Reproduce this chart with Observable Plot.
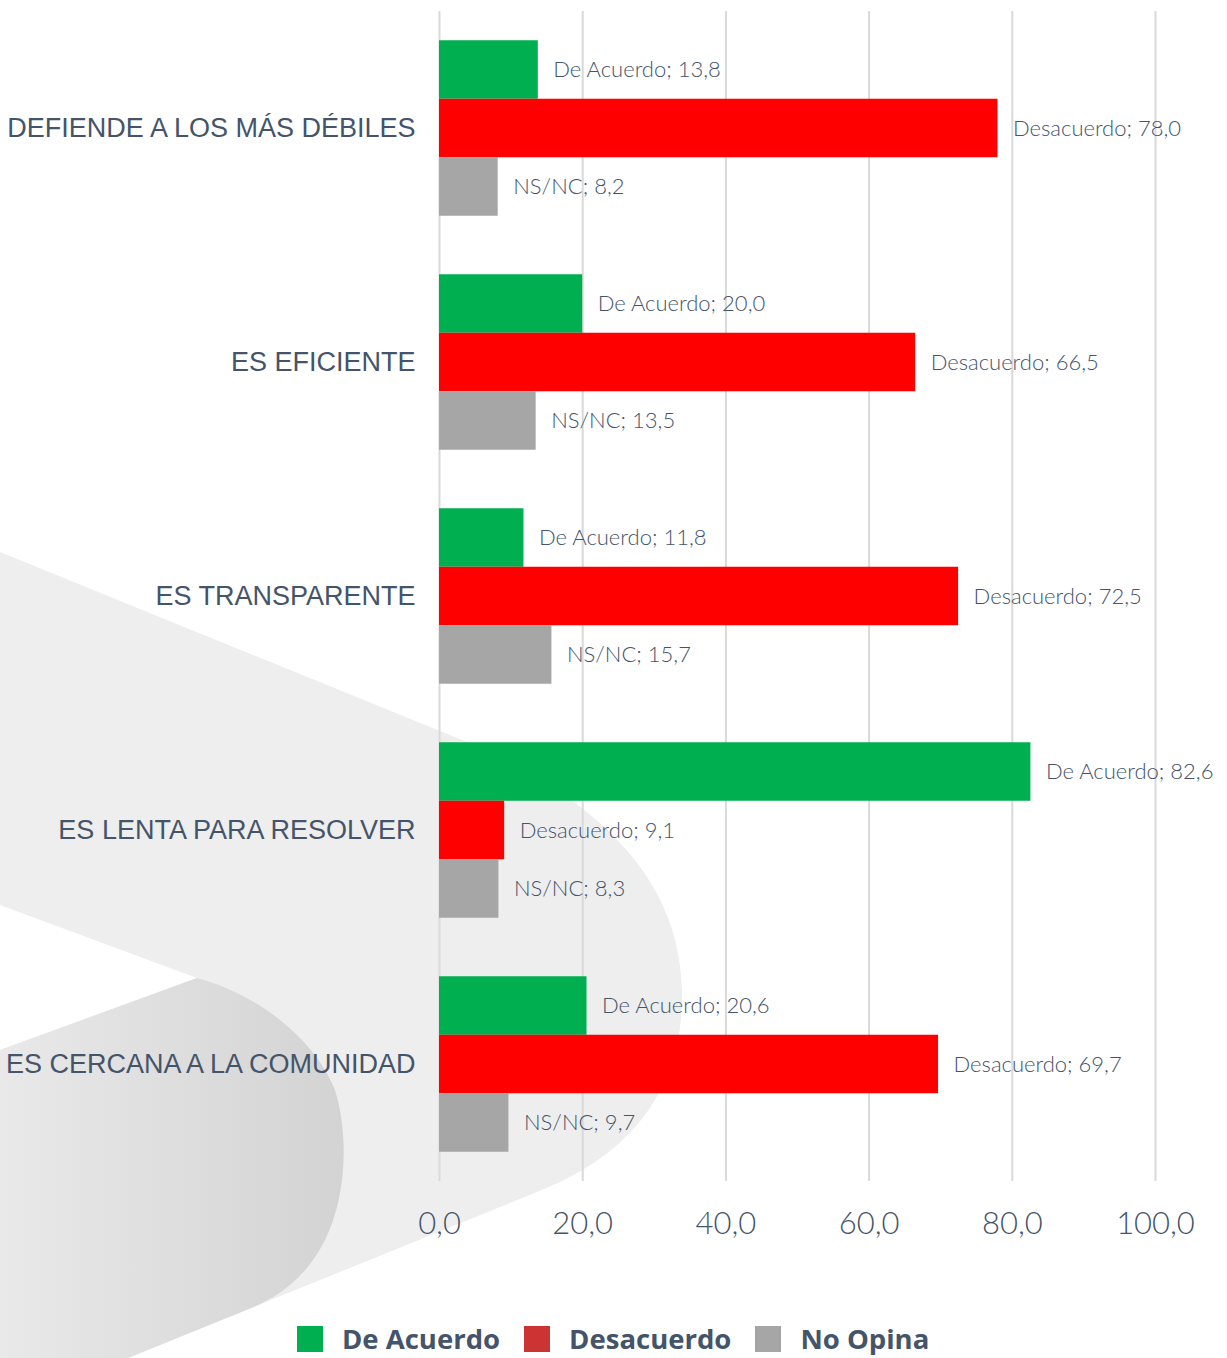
<!DOCTYPE html>
<html>
<head>
<meta charset="utf-8">
<script src="https://cdn.jsdelivr.net/npm/d3@7"></script>
<script src="https://cdn.jsdelivr.net/npm/@observablehq/plot@0.6"></script>
<style>
  body { margin: 0; background: #ffffff; }
  #wrap { position: relative; width: 1227px; height: 1358px; overflow: hidden; background: #ffffff; }
  #bg { position: absolute; left: 0; top: 0; }
  #chart { position: absolute; left: 0; top: 0; }
  #legend { position: absolute; left: 297px; top: 1325px; display: flex; align-items: center;
            font-family: "Open Sans", "Inter", sans-serif; font-weight: 700; font-size: 27.5px; line-height: 28px; color: #44546A; }
  .item { display: flex; align-items: center; margin-right: 24px; }
  .sw { width: 26px; height: 26px; margin-right: 19px; }
</style>
</head>
<body>
<div id="wrap">
  <svg id="bg" width="1227" height="1358" viewBox="0 0 1227 1358">
    <defs>
      <linearGradient id="dg" x1="0" x2="1" y1="0" y2="0">
        <stop offset="0" stop-color="#e9e9e9"/>
        <stop offset="1" stop-color="#d3d3d3"/>
      </linearGradient>
    </defs>
    <path d="M0,552 L467,742 C600,800 680,880 682,990 C684,1080 640,1150 542,1190 L128,1358 L0,1358 Z" fill="#eeeeee"/>
    <path d="M0,905 L197,978 L0,1050 Z" fill="#ffffff"/>
    <path d="M0,1050 L197,978 C260,995 315,1040 335,1090 C350,1140 345,1200 325,1240 C300,1290 260,1305 239,1313 L128,1358 L0,1358 Z" fill="url(#dg)"/>
  </svg>
  <div id="chart"></div>
  <div id="legend"></div>
</div>
<script>
const categories = [
  "DEFIENDE A LOS MÁS DÉBILES",
  "ES EFICIENTE",
  "ES TRANSPARENTE",
  "ES LENTA PARA RESOLVER",
  "ES CERCANA A LA COMUNIDAD"
];
const series = ["De Acuerdo", "Desacuerdo", "NS/NC"];
const deAcuerdo  = [13.8, 20.0, 11.8, 82.6, 20.6];
const desacuerdo = [78.0, 66.5, 72.5, 9.1, 69.7];
const nsnc       = [8.2, 13.5, 15.7, 8.3, 9.7];
const xTicks = [0, 20, 40, 60, 80, 100];
const barColors = ["#00B050", "#FF0000", "#A6A6A6"];
const legendLabels = ["De Acuerdo", "Desacuerdo", "No Opina"];
const legendColors = ["#00B050", "#CC3333", "#A6A6A6"];

const fmt = v => v.toFixed(1).replace(".", ",");
const seriesValues = [deAcuerdo, desacuerdo, nsnc];
const key = (c, s) => `${c}|${s}`;
const rows = [];
const yDomain = [];
categories.forEach((c, i) => {
  series.forEach((s, j) => {
    rows.push({cat: c, series: s, key: key(c, s), value: seriesValues[j][i]});
    yDomain.push(key(c, s));
  });
  if (i < categories.length - 1) yDomain.push(`gap${i}`);
});
const labelKeys = categories.map(c => key(c, series[1]));

const chart = Plot.plot({
  width: 1227,
  height: 1290,
  marginTop: 11,
  marginBottom: 109,
  marginLeft: 439,
  marginRight: 72,
  style: {background: "transparent", overflow: "visible"},
  x: {domain: [0, 100], axis: null},
  y: {domain: yDomain, paddingInner: 0, paddingOuter: 0.5, round: false, axis: null},
  color: {domain: series, range: barColors},
  marks: [
    Plot.ruleX(xTicks, {stroke: "#d9d9d9", strokeWidth: 2}),
    Plot.barX(rows, {x: "value", y: "key", fill: "series"}),
    Plot.text(rows, {
      x: "value", y: "key",
      text: d => `${d.series}; ${fmt(d.value)}`,
      textAnchor: "start", dx: 15,
      fontSize: 22, fontWeight: 300, fill: "#44546A",
      fontFamily: "Lato, 'Open Sans', sans-serif"
    }),
    Plot.axisY(labelKeys, {
      anchor: "left", tickSize: 0, tickPadding: 24, label: null,
      tickFormat: k => k.split("|")[0],
      fontSize: 27, fill: "#44546A", fontFamily: "'Liberation Sans', Arial, sans-serif"
    }),
    Plot.axisX(xTicks, {
      anchor: "bottom", tickSize: 0, tickPadding: 30, label: null,
      tickFormat: d => fmt(d),
      fontSize: 31, fontWeight: 300, fill: "#44546A",
      fontFamily: "Lato, 'Open Sans', sans-serif"
    })
  ]
});
document.getElementById("chart").appendChild(chart);

const legend = document.getElementById("legend");
legendLabels.forEach((l, i) => {
  const item = document.createElement("div");
  item.className = "item";
  const sw = document.createElement("div");
  sw.className = "sw";
  sw.style.background = legendColors[i];
  const t = document.createElement("span");
  t.textContent = l;
  item.appendChild(sw);
  item.appendChild(t);
  legend.appendChild(item);
});
</script>
</body>
</html>
